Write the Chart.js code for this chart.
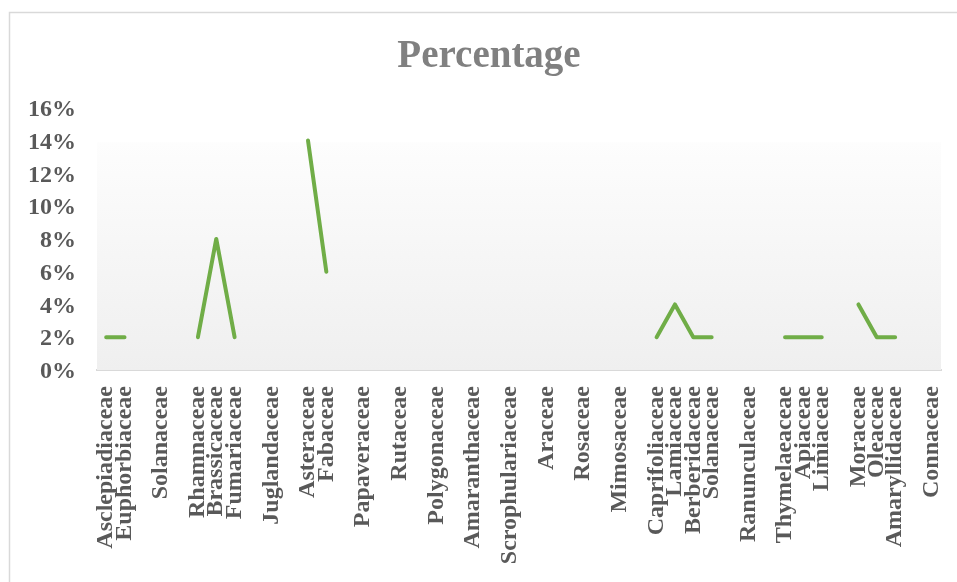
<!DOCTYPE html>
<html>
<head>
<meta charset="utf-8">
<script src="https://cdn.jsdelivr.net/npm/chart.js@4.4.0/dist/chart.umd.min.js"></script>
<style>
  html, body { margin: 0; padding: 0; background: #fff; }
  #grafico { display: block; }
</style>
</head>
<body>
<canvas id="grafico" width="957" height="582"></canvas>
<script>
// familias (linhas em branco ficam como '' no eixo)
const familias = [
  'Asclepiadiaceae', 'Euphorbiaceae', '', 'Solanaceae', '', 'Rhamnaceae', 'Brassicaceae', 'Fumariaceae',
  '', 'Juglandaceae', '', 'Asteraceae', 'Fabaceae', '', 'Papaveraceae', '', 'Rutaceae', '',
  'Polygonaceae', '', 'Amaranthaceae', '', 'Scrophulariaceae', '', 'Araceae', '', 'Rosaceae', '',
  'Mimosaceae', '', 'Caprifoliaceae', 'Lamiaceae', 'Berberidaceae', 'Solanaceae', '', 'Ranunculaceae', '',
  'Thymelaeaceae', 'Apiaceae', 'Limiaceae', '', 'Moraceae', 'Oleaceae', 'Amaryllidaceae', '', 'Connaceae'
];

// percentual (%), null = sem valor
const percentual = [
  2, 2, null, null, null, 2, 8, 2,
  null, null, null, 14, 6, null, null, null, null, null,
  null, null, null, null, null, null, null, null, null, null,
  null, null, 2, 4, 2, 2, null, null, null,
  2, 2, 2, null, 4, 2, 2, null, null
];

const ticksY = [0, 2, 4, 6, 8, 10, 12, 14, 16];

const fonte = 'Liberation Serif';

// moldura + fundo degradê da área do gráfico
const fundo = {
  id: 'fundo',
  beforeDraw(chart) {
    const ctx = chart.ctx;
    ctx.save();
    ctx.fillStyle = '#fff';
    ctx.fillRect(0, 0, chart.width, chart.height);
    ctx.strokeStyle = '#d9d9d9';
    ctx.lineWidth = 1.5;
    ctx.strokeRect(9.5, 12.5, 1200, 1200);
    ctx.restore();
  },
  beforeDatasetsDraw(chart) {
    const {ctx, chartArea, scales} = chart;
    const topo = scales.y.getPixelForValue(13.9);
    const g = ctx.createLinearGradient(0, topo, 0, chartArea.bottom);
    g.addColorStop(0, '#fdfdfd');
    g.addColorStop(1, '#efefef');
    ctx.save();
    ctx.fillStyle = g;
    ctx.fillRect(chartArea.left, topo, chartArea.right - chartArea.left, chartArea.bottom - topo);
    ctx.restore();
  }
};

new Chart(document.getElementById('grafico'), {
  type: 'line',
  data: {
    labels: familias,
    datasets: [{
      label: 'Percentage',
      data: percentual,
      borderColor: '#70ad47',
      borderWidth: 4,
      borderCapStyle: 'round',
      borderJoinStyle: 'round',
      pointRadius: 0,
      spanGaps: false,
      fill: false,
      tension: 0
    }]
  },
  options: {
    responsive: false,
    animation: false,
    layout: { padding: { left: 21, right: 0, top: 0, bottom: 0 } },
    plugins: {
      legend: { display: false },
      tooltip: { enabled: false },
      title: {
        display: true,
        text: 'Percentage',
        color: '#808080',
        font: { family: fonte, size: 39, weight: 'bold' },
        padding: { top: 34, bottom: 27 }
      }
    },
    scales: {
      x: {
        offset: true,
        grid: { display: false },
        border: { display: true, color: '#d9d9d9', width: 2 },
        ticks: {
          autoSkip: false,
          minRotation: 90,
          maxRotation: 90,
          padding: 8,
          color: '#595959',
          font: { family: fonte, size: 24, weight: 'bold' }
        },
        afterFit(s) {
          s.height = 212;
          s.paddingLeft = 0;
          s.paddingRight = 16;
        }
      },
      y: {
        min: 0,
        max: 16,
        grid: { display: false },
        border: { display: false },
        afterBuildTicks(s) { s.ticks = ticksY.map(v => ({ value: v })); },
        ticks: {
          padding: 13,
          labelOffset: 2,
          color: '#595959',
          font: { family: fonte, size: 24, weight: 'bold' },
          callback: v => v + '%'
        },
        afterFit(s) { s.width = 76; }
      }
    }
  },
  plugins: [fundo]
});
</script>
</body>
</html>
